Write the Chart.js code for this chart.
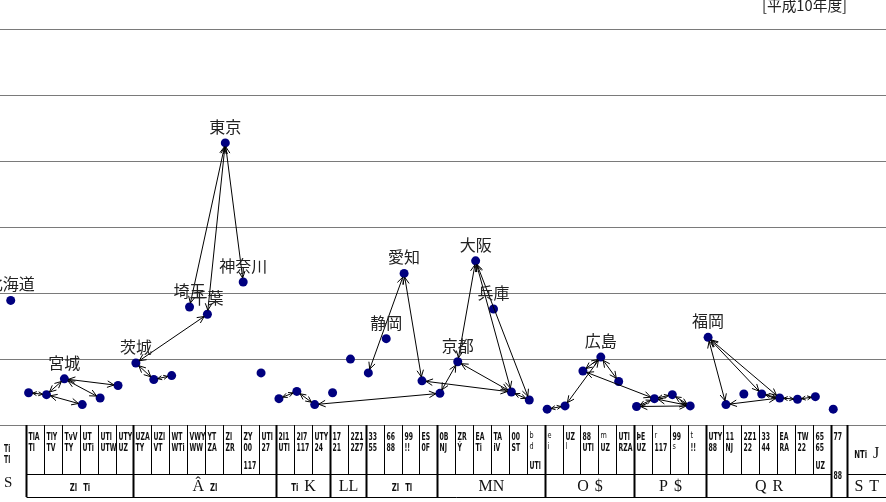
<!DOCTYPE html>
<html lang="ja">
<head>
<meta charset="utf-8">
<title>[平成10年度]</title>
<script src="https://cdn.jsdelivr.net/npm/chart.js@4.4.0/dist/chart.umd.min.js"></script>
<style>
  html, body { margin: 0; padding: 0; background: #ffffff; }
  #wrap { position: relative; width: 886px; height: 502px; }
</style>
</head>
<body>
<div id="wrap"><canvas id="flowChart"></canvas></div>
<script>
// Données : un point par préfecture (ordre JIS)
const prefectures = ['北海道','青森','岩手','宮城','秋田','山形','福島','茨城','栃木','群馬',
  '埼玉','千葉','東京','神奈川','新潟','富山','石川','福井','山梨','長野','岐阜','静岡','愛知',
  '三重','滋賀','京都','大阪','兵庫','奈良','和歌山','鳥取','島根','岡山','広島','山口','徳島',
  '香川','愛媛','高知','福岡','佐賀','長崎','熊本','大分','宮崎','鹿児島','沖縄'];

const values = [1.89, 0.49, 0.46, 0.70, 0.31, 0.41, 0.60, 0.94, 0.69, 0.75,
  1.79, 1.68, 4.28, 2.17, 0.79, 0.40, 0.51, 0.31, 0.49, 1.00, 0.79, 1.31, 2.30,
  0.67, 0.48, 0.96, 2.49, 1.76, 0.50, 0.38, 0.24, 0.29, 0.82, 1.03, 0.66, 0.28,
  0.40, 0.46, 0.29, 1.33, 0.31, 0.47, 0.47, 0.41, 0.39, 0.43, 0.24];

// Préfectures dont le nom est affiché
const labeled = ['北海道','宮城','茨城','埼玉','千葉','東京','神奈川','静岡','愛知','京都','大阪','兵庫','広島','福岡'];

// Flèches doubles entre préfectures
const links = [
  ['青森','岩手'], ['岩手','宮城'], ['岩手','秋田'], ['宮城','山形'], ['宮城','福島'],
  ['千葉','茨城'], ['茨城','栃木'], ['栃木','群馬'],
  ['東京','埼玉'], ['東京','千葉'], ['東京','神奈川'],
  ['富山','石川'], ['石川','福井'], ['福井','滋賀'],
  ['愛知','岐阜'], ['愛知','三重'], ['三重','奈良'],
  ['滋賀','京都'], ['京都','大阪'], ['京都','奈良'], ['大阪','奈良'], ['大阪','和歌山'], ['奈良','和歌山'],
  ['鳥取','島根'], ['島根','広島'], ['岡山','広島'], ['広島','山口'], ['岡山','香川'],
  ['徳島','香川'], ['徳島','高知'], ['香川','愛媛'], ['香川','高知'], ['愛媛','高知'],
  ['福岡','佐賀'], ['福岡','熊本'], ['福岡','大分'], ['佐賀','大分'], ['熊本','大分'],
  ['大分','宮崎'], ['宮崎','鹿児島']
];

const yTicks = [0, 1, 2, 3, 4, 5, 6];
const headerText = '[平成10年度]';

// Tableau du bas (texte tel qu'il apparaît)
const leftCellText = ['Ti', 'Tl', 'S'];
const cellTexts = [
  ['TlA','Tl'], ['TlY','TV'], ['TvV','TY'], ['UT','UTi'], ['UTl','UTW'], ['UTY','UZ'],
  ['UZA','TY'], ['UZl','VT'], ['WT','WTi'], ['VWY','WW'], ['YT','ZA'], ['Zl','ZR'],
  ['ZY','00','117'], ['UTl','27'], ['2I1','UTl'], ['2I7','117'], ['UTY','24'],
  ['17','21'], ['2Z1','2Z7'], ['33','55'], ['66','88'], ['99','!!'], ['ES','0F'],
  ['0B','NJ'], ['ZR','Ý'], ['EA','Ti'], ['TA','iV'], ['00','ST'], ['b','d','UTl'],
  ['e','i'], ['UZ','l'], ['88','UTl'], ['m','UZ'], ['UTl','RZA'], ['ÞE','UZ'],
  ['r','117'], ['99','s'], ['t','!!'], ['UTY','88'], ['11','NJ'], ['2Z1','22'],
  ['33','44'], ['EA','RA'], ['TW','22'], ['65','65','UZ']
];
const groupLabels = ['Zl Ti', 'Â Zl', 'Ti K', 'LL', 'Zl Tl', 'MN', 'O $', 'P $', 'Q R'];
const groupSizes = [6, 8, 3, 2, 4, 6, 5, 4, 7];
const lastCellText = ['77', '88'];
const totalCellText = ['NTi J', 'S T'];

const NARROW = '"Liberation Sans Narrow", "DejaVu Sans Condensed", sans-serif';
const SERIF = '"Liberation Serif", "DejaVu Serif", serif';
const JP = '"Noto Sans CJK JP", "Noto Sans", sans-serif';
const CELL_FONT = 'bold 11px ' + NARROW;

// Texte étroit : compression horizontale comme dans le tableau d'origine
function narrowText(ctx, text, x, y, font, sx) {
    ctx.save();
    ctx.font = font;
    ctx.translate(x, y);
    ctx.scale(sx, 1);
    ctx.fillText(text, 0, 0);
    ctx.restore();
}

// Dessin d'une pointe de flèche ouverte
function drawHead(ctx, x, y, ang, len) {
    const spread = 0.45;
    ctx.beginPath();
    ctx.moveTo(x - len * Math.cos(ang - spread), y - len * Math.sin(ang - spread));
    ctx.lineTo(x, y);
    ctx.lineTo(x - len * Math.cos(ang + spread), y - len * Math.sin(ang + spread));
    ctx.stroke();
}

function drawArrow(ctx, x1, y1, x2, y2) {
    const ang = Math.atan2(y2 - y1, x2 - x1);
    const dist = Math.hypot(x2 - x1, y2 - y1);
    const s = 4;
    const len = Math.min(7.5, (dist - 2 * s) / 2.2);
    const ax = x1 + Math.cos(ang) * s, ay = y1 + Math.sin(ang) * s;
    const bx = x2 - Math.cos(ang) * s, by = y2 - Math.sin(ang) * s;
    ctx.beginPath();
    ctx.moveTo(ax, ay);
    ctx.lineTo(bx, by);
    ctx.stroke();
    drawHead(ctx, bx, by, ang, len);
    drawHead(ctx, ax, ay, ang + Math.PI, len);
}

// Texte avec mots serif (majuscules) ou étroits (minuscules)
function drawMixed(ctx, text, cx, baseline) {
    const words = text.split(' ');
    const narrow = words.map(w => /[a-z0-9]/.test(w));
    const widths = words.map((w, i) => {
        ctx.font = narrow[i] ? CELL_FONT : '16px ' + SERIF;
        return ctx.measureText(w).width * (narrow[i] ? 0.7 : 1);
    });
    const total = widths.reduce((a, b) => a + b, 0) + (words.length - 1) * 6;
    let x = cx - total / 2;
    ctx.textAlign = 'left';
    words.forEach((w, i) => {
        if (narrow[i]) {
            narrowText(ctx, w, x, baseline, CELL_FONT, 0.7);
        } else {
            ctx.font = '16px ' + SERIF;
            ctx.fillText(w, x, baseline);
        }
        x += widths[i] + 6;
    });
}

const overlayPlugin = {
    id: 'overlay',
    afterDatasetsDraw(chart) {
        const ctx = chart.ctx;
        const xs = chart.scales.x, ys = chart.scales.y;
        const px = i => xs.getPixelForValue(i);
        const py = i => ys.getPixelForValue(values[i]);

        // Flèches
        ctx.save();
        ctx.strokeStyle = '#000000';
        ctx.lineWidth = 1;
        links.forEach(([a, b]) => {
            const i = prefectures.indexOf(a), j = prefectures.indexOf(b);
            drawArrow(ctx, px(i), py(i), px(j), py(j));
        });
        ctx.restore();

        // Noms des préfectures
        ctx.save();
        ctx.fillStyle = '#222222';
        ctx.font = '16px ' + JP;
        ctx.textAlign = 'center';
        ctx.textBaseline = 'middle';
        labeled.forEach(name => {
            const i = prefectures.indexOf(name);
            ctx.fillText(name, px(i), py(i) - 16);
        });
        ctx.restore();
    },
    afterDraw(chart) {
        const ctx = chart.ctx;
        const xs = chart.scales.x;
        const W = chart.width;
        const top = 425, mid = 474, bottom = 497;
        const edge = k => Math.round(xs.getPixelForValue(k + 0.86)) + 0.5;
        const lastRight = Math.round(xs.getPixelForValue(46.75)) + 0.5;

        ctx.save();
        // En-tête
        ctx.fillStyle = '#222222';
        ctx.textBaseline = 'middle';
        ctx.textAlign = 'left';
        narrowText(ctx, headerText, 762, 5, '15px ' + JP, 0.98);

        // Cadre du tableau
        ctx.strokeStyle = '#000000';
        ctx.lineWidth = 1;
        ctx.beginPath();
        ctx.moveTo(edge(0), mid + 0.5); ctx.lineTo(edge(45), mid + 0.5);
        ctx.moveTo(lastRight, mid + 0.5); ctx.lineTo(W, mid + 0.5);
        ctx.moveTo(edge(0), bottom + 0.5); ctx.lineTo(W, bottom + 0.5);
        for (let k = 1; k < 45; k++) {
            ctx.moveTo(edge(k), top); ctx.lineTo(edge(k), mid);
        }
        ctx.stroke();

        ctx.lineWidth = 2;
        ctx.beginPath();
        let k = 0;
        [0].concat(groupSizes).forEach(n => {
            k += n;
            ctx.moveTo(edge(k), top); ctx.lineTo(edge(k), bottom);
        });
        ctx.moveTo(lastRight, top); ctx.lineTo(lastRight, bottom);
        ctx.stroke();

        // Textes des cellules
        ctx.fillStyle = '#111111';
        ctx.textBaseline = 'alphabetic';
        ctx.textAlign = 'left';
        cellTexts.forEach((lines, c) => {
            const x0 = edge(c) + 2;
            lines.forEach((t, r) => {
                const small = /^[a-z]$/.test(t);
                const base = r < 2 ? 440 + r * 11 : 469;
                if (small) {
                    narrowText(ctx, t, x0, base - 2, '8px ' + NARROW, 0.9);
                } else {
                    narrowText(ctx, t, x0, base, CELL_FONT, 0.62);
                }
            });
        });

        // Colonne de gauche
        narrowText(ctx, leftCellText[0], 4, 452, CELL_FONT, 0.62);
        narrowText(ctx, leftCellText[1], 4, 463, CELL_FONT, 0.62);
        ctx.font = '15px ' + SERIF;
        ctx.fillText(leftCellText[2], 4, 487);

        // Groupes (deuxième ligne)
        k = 0;
        groupLabels.forEach((lbl, g) => {
            const x1 = edge(k), x2 = edge(k + groupSizes[g]);
            drawMixed(ctx, lbl, (x1 + x2) / 2, 491);
            k += groupSizes[g];
        });

        // Dernière colonne et total
        narrowText(ctx, lastCellText[0], edge(45) + 2, 440, CELL_FONT, 0.62);
        narrowText(ctx, lastCellText[1], edge(45) + 2, 479, CELL_FONT, 0.62);
        drawMixed(ctx, totalCellText[0], (lastRight + W) / 2, 458);
        drawMixed(ctx, totalCellText[1], (lastRight + W) / 2, 491);
        ctx.restore();
    }
};

function createFlowChart() {
    const canvas = document.getElementById('flowChart');
    const ctx = canvas.getContext('2d');
    const points = values.map((v, i) => ({ x: i, y: v }));

    return new Chart(ctx, {
        type: 'scatter',
        data: {
            datasets: [{
                data: points,
                backgroundColor: '#00007f',
                borderWidth: 0,
                pointRadius: 4.5,
                pointHoverRadius: 4.5,
                clip: false
            }]
        },
        options: {
            responsive: true,
            maintainAspectRatio: false,
            animation: false,
            layout: { autoPadding: false, padding: { top: 29.5, bottom: 77, left: 0, right: 0 } },
            plugins: { legend: { display: false }, tooltip: { enabled: false } },
            scales: {
                x: { type: 'linear', min: -0.6, max: 48.95, display: false },
                y: {
                    min: yTicks[0],
                    max: yTicks[yTicks.length - 1],
                    afterBuildTicks: scale => { scale.ticks = yTicks.map(v => ({ value: v })); },
                    afterFit: scale => { scale.width = 0; },
                    ticks: { display: false },
                    border: { display: false },
                    grid: { color: '#7a7a7a', lineWidth: 1, drawTicks: false }
                }
            }
        },
        plugins: [overlayPlugin]
    });
}

window.flowChart = createFlowChart();
</script>
</body>
</html>
